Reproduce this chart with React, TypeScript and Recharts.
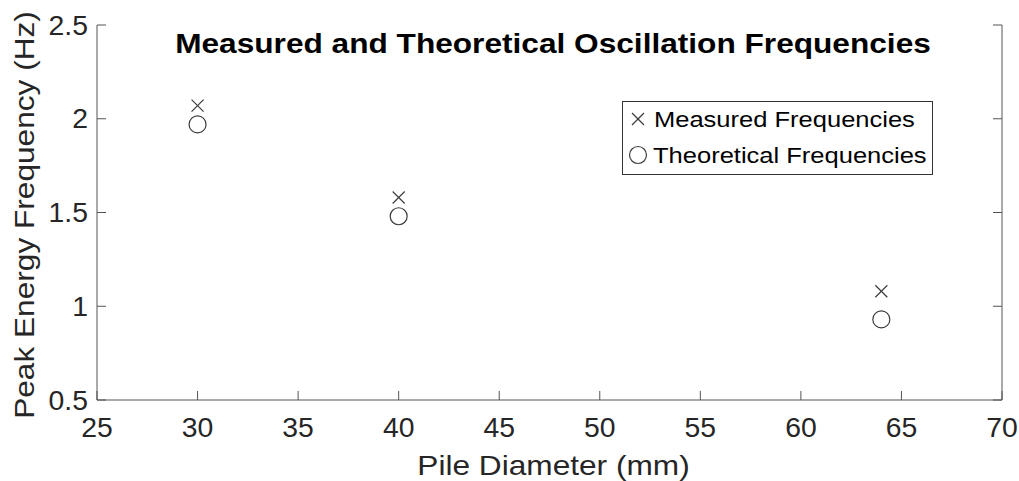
import React from 'react';
import { ScatterChart, Scatter, XAxis, YAxis, Legend, Label } from 'recharts';

const diameters = [30, 40, 64];
const measured = [2.07, 1.58, 1.08];
const theoretical = [1.97, 1.48, 0.93];
const xTicks = [25, 30, 35, 40, 45, 50, 55, 60, 65, 70];
const yTicks = [0.5, 1, 1.5, 2, 2.5];
const seriesNames = ['Measured Frequencies', 'Theoretical Frequencies'];
const title = 'Measured and Theoretical Oscillation Frequencies';
const xLabel = 'Pile Diameter (mm)';
const yLabel = 'Peak Energy Frequency (Hz)';

const measuredData = diameters.map((d, i) => ({ x: d, y: measured[i] }));
const theoreticalData = diameters.map((d, i) => ({ x: d, y: theoretical[i] }));

const FONT = '"Liberation Sans", Arial, Helvetica, sans-serif';
const AXIS = '#555555';
const TEXT = '#262626';
const MARK = '#3c3c3c';

const XMark = (props: any) => {
  const { cx, cy } = props;
  const s = 6;
  return (
    <g>
      <line x1={cx - s} y1={cy - s} x2={cx + s} y2={cy + s} stroke={MARK} strokeWidth={1.2} />
      <line x1={cx - s} y1={cy + s} x2={cx + s} y2={cy - s} stroke={MARK} strokeWidth={1.2} />
    </g>
  );
};

const OMark = (props: any) => {
  const { cx, cy } = props;
  return <circle cx={cx} cy={cy} r={8.5} fill="none" stroke={MARK} strokeWidth={1.2} />;
};

const XTickBottom = (props: any) => {
  const { x, y, payload } = props;
  return (
    <g>
      <line x1={x} y1={y} x2={x} y2={y - 9} stroke={AXIS} strokeWidth={1} />
      <text
        transform={`translate(${x},${y + 37}) scale(1.05,1)`}
        textAnchor="middle"
        fontFamily={FONT}
        fontSize={27}
        fill={TEXT}
      >
        {String(payload.value)}
      </text>
    </g>
  );
};

const XTickTop = (props: any) => {
  const { x, y } = props;
  return <line x1={x} y1={y} x2={x} y2={y + 9} stroke={AXIS} strokeWidth={1} />;
};

const YTickLeft = (props: any) => {
  const { x, y, payload } = props;
  return (
    <g>
      <line x1={x} y1={y} x2={x + 9} y2={y} stroke={AXIS} strokeWidth={1} />
      <text
        transform={`translate(${x - 9},${y + 9.6}) scale(1.05,1)`}
        textAnchor="end"
        fontFamily={FONT}
        fontSize={27}
        fill={TEXT}
      >
        {String(payload.value)}
      </text>
    </g>
  );
};

const YTickRight = (props: any) => {
  const { x, y } = props;
  return <line x1={x} y1={y} x2={x - 9} y2={y} stroke={AXIS} strokeWidth={1} />;
};

const YLabelContent = (props: any) => {
  const vb = props.viewBox;
  const cx = vb.x + 34;
  const cy = vb.y + vb.height / 2 + 2.5;
  return (
    <text
      transform={`translate(${cx},${cy}) rotate(-90) scale(1.13,1)`}
      textAnchor="middle"
      fontFamily={FONT}
      fontSize={28}
      fill={TEXT}
    >
      {yLabel}
    </text>
  );
};

const XLabelContent = (props: any) => {
  const vb = props.viewBox;
  const cx = vb.x + vb.width / 2 + 4;
  const cy = vb.y + 75;
  return (
    <text
      transform={`translate(${cx},${cy}) scale(1.13,1)`}
      textAnchor="middle"
      fontFamily={FONT}
      fontSize={28}
      fill={TEXT}
    >
      {xLabel}
    </text>
  );
};

const LegendContent = () => (
  <svg width={311} height={74} style={{ display: 'block' }}>
    <rect x={0.5} y={0.5} width={310} height={73} fill="#ffffff" stroke="#333333" strokeWidth={1} />
    <XMark cx={16} cy={18} />
    <text
      transform="translate(32,26) scale(1.16,1)"
      fontFamily={FONT}
      fontSize={22}
      fill="#000000"
    >
      {seriesNames[0]}
    </text>
    <OMark cx={16} cy={54} />
    <text
      transform="translate(31,62) scale(1.16,1)"
      fontFamily={FONT}
      fontSize={22}
      fill="#000000"
    >
      {seriesNames[1]}
    </text>
  </svg>
);

export default function App() {
  return (
    <div style={{ position: 'absolute', left: 0, top: 0, width: 1019, height: 481, background: '#ffffff', overflow: 'hidden' }}>
      <ScatterChart
        width={1019}
        height={481}
        margin={{ top: 25, right: 0, bottom: 0, left: 0 }}
        style={{ background: '#ffffff' }}
      >
        <XAxis
          xAxisId="bottom"
          type="number"
          dataKey="x"
          domain={[25, 70]}
          ticks={xTicks}
          interval={0}
          allowDataOverflow
          orientation="bottom"
          height={81}
          tickSize={0}
          tickMargin={0}
          tickLine={false}
          axisLine={{ stroke: AXIS, strokeWidth: 1 }}
          tick={<XTickBottom />}
        >
          <Label content={<XLabelContent />} />
        </XAxis>
        <XAxis
          xAxisId="top"
          type="number"
          dataKey="x"
          domain={[25, 70]}
          ticks={xTicks}
          interval={0}
          allowDataOverflow
          orientation="top"
          height={0}
          tickSize={0}
          tickMargin={0}
          tickLine={false}
          axisLine={{ stroke: AXIS, strokeWidth: 1 }}
          tick={<XTickTop />}
        />
        <YAxis
          yAxisId="left"
          type="number"
          dataKey="y"
          domain={[0.5, 2.5]}
          ticks={yTicks}
          interval={0}
          allowDataOverflow
          orientation="left"
          width={97}
          tickSize={0}
          tickMargin={0}
          tickLine={false}
          axisLine={{ stroke: AXIS, strokeWidth: 1 }}
          tick={<YTickLeft />}
        >
          <Label content={<YLabelContent />} />
        </YAxis>
        <YAxis
          yAxisId="right"
          type="number"
          dataKey="y"
          domain={[0.5, 2.5]}
          ticks={yTicks}
          interval={0}
          allowDataOverflow
          orientation="right"
          width={17}
          tickSize={0}
          tickMargin={0}
          tickLine={false}
          axisLine={{ stroke: AXIS, strokeWidth: 1 }}
          tick={<YTickRight />}
        />
        <Scatter
          name={seriesNames[0]}
          data={measuredData}
          xAxisId="bottom"
          yAxisId="left"
          shape={(p: any) => <XMark {...p} />}
          isAnimationActive={false}
        />
        <Scatter
          name={seriesNames[1]}
          data={theoreticalData}
          xAxisId="bottom"
          yAxisId="left"
          shape={(p: any) => <OMark {...p} />}
          isAnimationActive={false}
        />
        <Legend
          layout="horizontal"
          align="center"
          verticalAlign="middle"
          content={<LegendContent />}
          wrapperStyle={{ left: 622, top: 101, width: 311, height: 74 }}
        />
      </ScatterChart>
      <svg
        width={1019}
        height={70}
        style={{ position: 'absolute', left: 0, top: 0, pointerEvents: 'none' }}
      >
        <text
          transform="translate(553,53) scale(1.13,1)"
          textAnchor="middle"
          fontFamily={FONT}
          fontSize={28}
          fontWeight="bold"
          fill="#000000"
        >
          {title}
        </text>
      </svg>
    </div>
  );
}
